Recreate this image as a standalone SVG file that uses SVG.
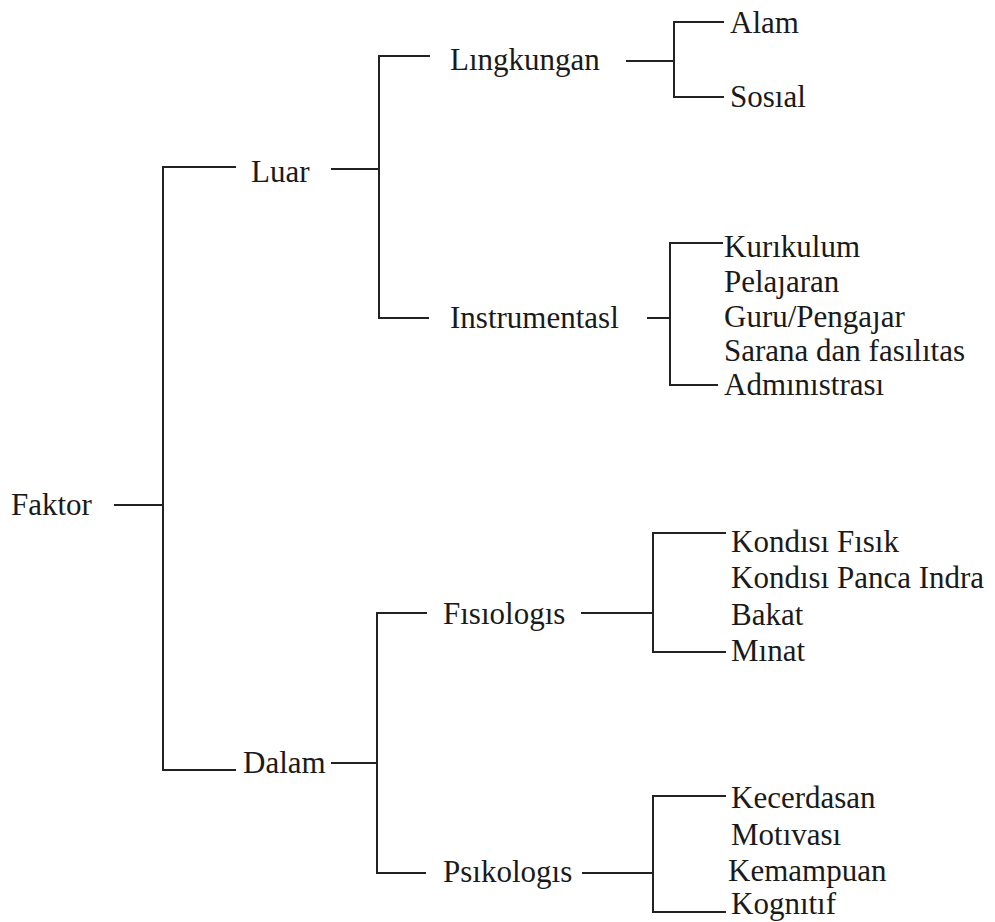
<svg xmlns="http://www.w3.org/2000/svg" width="995" height="922" viewBox="0 0 995 922">
<style>
.t{font-family:"Liberation Serif","Times New Roman","DejaVu Serif",serif;font-size:31px;fill:#1a1a1a}
.c{stroke:#222;stroke-width:2;fill:none;stroke-linecap:square}
</style>
<rect width="995" height="922" fill="#fff"/>
<g id="connectors" class="c">
<path d="M115 505H163"/>
<path d="M235 167H163V770H235"/>
<path d="M332 169H379"/>
<path d="M429 56H379V318H428"/>
<path d="M627 61H674"/>
<path d="M723 22H674V97H723"/>
<path d="M648 318H670"/>
<path d="M722 243H670V385H717"/>
<path d="M332 763H377"/>
<path d="M426 613H377V873H425"/>
<path d="M582 613H653"/>
<path d="M725 533H653V652H725"/>
<path d="M583 873H653"/>
<path d="M725 796H653V912H725"/>
</g>
<g id="faktor"><text class="t" x="11" y="515">Faktor</text></g>
<g id="luar"><text class="t" x="251" y="182">Luar</text></g>
<g id="dalam"><text class="t" x="243" y="773">Dalam</text></g>
<g id="lingkungan"><text class="t" x="450" y="70">Lıngkungan</text></g>
<g id="instrumentasi"><text class="t" x="450" y="328">Instrumentasl</text></g>
<g id="fisiologis"><text class="t" x="443" y="624">Fısıologıs</text></g>
<g id="psikologis"><text class="t" x="443" y="882">Psıkologıs</text></g>
<g id="alam"><text class="t" x="730" y="33">Alam</text></g>
<g id="sosial"><text class="t" x="730" y="107">Sosıal</text></g>
<g id="instrumental-items">
<text class="t" x="724" y="257">Kurıkulum</text>
<text class="t" x="724" y="292">Pelaȷaran</text>
<text class="t" x="724" y="327">Guru/Pengaȷar</text>
<text class="t" x="724" y="361">Sarana dan fasılıtas</text>
<text class="t" x="724" y="395">Admınıstrası</text>
</g>
<g id="fisiologis-items">
<text class="t" x="731" y="552">Kondısı Fısık</text>
<text class="t" x="731" y="588">Kondısı Panca Indra</text>
<text class="t" x="731" y="625">Bakat</text>
<text class="t" x="731" y="661">Mınat</text>
</g>
<g id="psikologis-items">
<text class="t" x="731" y="808">Kecerdasan</text>
<text class="t" x="731" y="845">Motıvası</text>
<text class="t" x="728" y="881">Kemampuan</text>
<text class="t" x="731" y="914">Kognıtıf</text>
</g>
</svg>
